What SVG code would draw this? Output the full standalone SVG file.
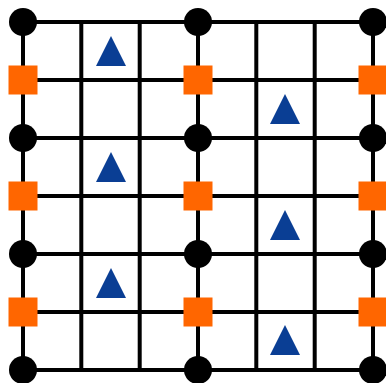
<svg xmlns="http://www.w3.org/2000/svg" width="386" height="383" viewBox="0 0 386 383">
<defs>
<style>
.ln{stroke:#000;stroke-width:4;fill:none}
.dot{fill:#000}
.sq{fill:#FF6600}
.tri{fill:#0A3E94}
</style>
<circle id="c" r="14" class="dot"/>
<rect id="s" x="-14.5" y="-14.5" width="29" height="29" class="sq"/>
<polygon id="t" points="0,-15 15,15 -15,15" class="tri"/>
</defs>
<rect width="386" height="383" fill="#fff"/>
<g id="connectors">
<path class="ln" d="M23 22H373M23 80H373M23 138H373M23 196H373M23 254H373M23 312H373M23 370H373"/>
<path class="ln" d="M23 22V370M81.3 22V370M139.7 22V370M198 22V370M256.3 22V370M314.7 22V370M373 22V370"/>
</g>
<g id="circles">
<use href="#c" x="23" y="22"/><use href="#c" x="198" y="22"/><use href="#c" x="373" y="22"/>
<use href="#c" x="23" y="138"/><use href="#c" x="198" y="138"/><use href="#c" x="373" y="138"/>
<use href="#c" x="23" y="254"/><use href="#c" x="198" y="254"/><use href="#c" x="373" y="254"/>
<use href="#c" x="23" y="370"/><use href="#c" x="198" y="370"/><use href="#c" x="373" y="370"/>
</g>
<g id="squares">
<use href="#s" x="23" y="80"/><use href="#s" x="198" y="80"/><use href="#s" x="373" y="80"/>
<use href="#s" x="23" y="196"/><use href="#s" x="198" y="196"/><use href="#s" x="373" y="196"/>
<use href="#s" x="23" y="312"/><use href="#s" x="198" y="312"/><use href="#s" x="373" y="312"/>
</g>
<g id="triangles">
<use href="#t" x="111" y="51"/>
<use href="#t" x="285" y="109"/>
<use href="#t" x="111" y="167"/>
<use href="#t" x="285" y="225"/>
<use href="#t" x="111" y="283"/>
<use href="#t" x="285" y="340"/>
</g>
</svg>
